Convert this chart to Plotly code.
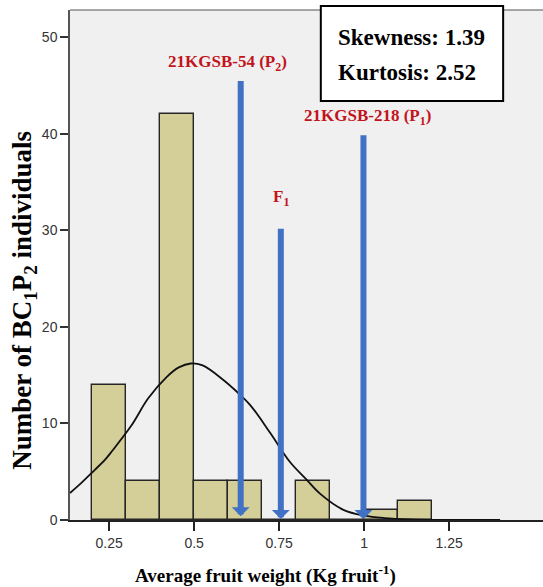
import plotly.graph_objects as go

# ---------------- data ----------------
bin_starts = [0.2, 0.3, 0.4, 0.5, 0.6, 0.7, 0.8, 0.9, 1.0, 1.1]
bin_counts = [14, 4, 42, 4, 4, 0, 4, 0, 1, 2]
bin_width = 0.1

# fitted normal curve
curve_x = [0.135, 0.17, 0.208, 0.237, 0.26, 0.316, 0.365, 0.419, 0.455, 0.49, 0.525,
           0.586, 0.625, 0.665, 0.724, 0.782, 0.83, 0.871, 0.939, 1.0, 1.06, 1.135, 1.25, 1.4]
curve_y = [2.8, 3.9, 5.2, 6.2, 7.2, 9.8, 12.6, 14.8, 15.8, 16.2, 16.0,
           14.5, 13.3, 11.9, 9.0, 6.0, 4.2, 2.7, 1.05, 0.45, 0.2, 0.07, 0.01, 0.0]

parent_names = ["21KGSB-54 (P<sub>2</sub>)", "F<sub>1</sub>", "21KGSB-218 (P<sub>1</sub>)"]
parent_x = [0.637, 0.755, 0.998]
parent_top = [45.6, 30.3, 40.0]
parent_tip = [0.4, 0.1, 0.1]
label_x = [0.597, 0.756, 1.009]
label_y = [47.3, 33.3, 41.7]

x_tick_vals = [0.25, 0.5, 0.75, 1.0, 1.25]
x_tick_text = ["0.25", "0.5", "0.75", "1", "1.25"]
y_tick_vals = [0, 10, 20, 30, 40, 50]

stats_text = ["Skewness: 1.39", "Kurtosis: 2.52"]

# ---------------- figure ----------------
SERIF = "Liberation Serif, Times New Roman, serif"
NARROW = "Liberation Sans Narrow, Arial Narrow, Liberation Sans, Arial, sans-serif"
RED = "#c2141c"
BLUE = "#4171c4"
PLOT_BG = "#f0f0f0"

fig = go.Figure()

fig.add_trace(go.Bar(
    x=[s + bin_width / 2 for s in bin_starts],
    y=bin_counts,
    width=bin_width,
    marker=dict(color="#d4cf98", line=dict(color="#262626", width=1.4)),
    hoverinfo="skip",
))

fig.add_trace(go.Scatter(
    x=curve_x, y=curve_y, mode="lines",
    line=dict(color="#111111", width=1.8, shape="spline", smoothing=1.0),
    hoverinfo="skip",
))

annotations = []
for name, px, top, tip, lx, ly in zip(parent_names, parent_x, parent_top, parent_tip, label_x, label_y):
    annotations.append(dict(
        x=px, y=tip, xref="x", yref="y",
        ax=px, ay=top, axref="x", ayref="y",
        text="", showarrow=True,
        arrowhead=1, arrowsize=0.5, arrowwidth=6, arrowcolor=BLUE,
        standoff=0,
    ))
    annotations.append(dict(
        x=lx, y=ly, xref="x", yref="y", text="<b>" + name + "</b>",
        showarrow=False, xanchor="center", yanchor="middle",
        font=dict(family=SERIF, size=17, color=RED),
    ))

# statistics box text
annotations.append(dict(
    x=0.9176, y=0.947, xref="x", yref="paper", text="<b>" + stats_text[0] + "</b>",
    showarrow=False, xanchor="left", yanchor="middle",
    font=dict(family=SERIF, size=23, color="#000000"),
))
annotations.append(dict(
    x=0.9176, y=0.878, xref="x", yref="paper", text="<b>" + stats_text[1] + "</b>",
    showarrow=False, xanchor="left", yanchor="middle",
    font=dict(family=SERIF, size=23, color="#000000"),
))

# axis titles
annotations.append(dict(
    x=0.0, xshift=-46, y=0.43, xref="paper", yref="paper",
    text="<b>Number of BC<sub>1</sub>P<sub>2</sub> individuals</b>",
    textangle=-90, showarrow=False, xanchor="center", yanchor="middle",
    font=dict(family=SERIF, size=27, color="#000000"),
))
annotations.append(dict(
    x=0.7088, y=-0.106, xref="x", yref="paper",
    text="<b>Average fruit weight (Kg fruit<sup>-1</sup>)</b>",
    showarrow=False, xanchor="center", yanchor="middle",
    font=dict(family=SERIF, size=19, color="#000000"),
))

shapes = [
    # top border
    dict(type="line", xref="paper", yref="paper", x0=0, x1=1, y0=1, y1=1,
         line=dict(color="#8a8a8a", width=1.5)),
    # stats box
    dict(type="rect", xref="x", yref="paper", x0=0.8726, x1=1.4088, y0=0.8216, y1=1.0078,
         fillcolor="white", line=dict(color="#000000", width=2), layer="above"),
]

fig.update_layout(
    width=560, height=587,
    margin=dict(l=70, r=0, t=10, b=67),
    paper_bgcolor="white",
    plot_bgcolor=PLOT_BG,
    showlegend=False,
    bargap=0,
    annotations=annotations,
    shapes=shapes,
    xaxis=dict(
        range=[0.135, 1.576], tickmode="array", tickvals=x_tick_vals, ticktext=x_tick_text,
        ticks="outside", ticklen=9, tickwidth=1.5, tickcolor="#222222",
        showline=True, linecolor="#222222", linewidth=2,
        showgrid=False, zeroline=False, automargin=False,
        tickfont=dict(family=NARROW, size=14, color="#333333"),
    ),
    yaxis=dict(
        range=[0, 52.8], tickmode="array", tickvals=y_tick_vals,
        ticks="outside", ticklen=8, tickwidth=1.5, tickcolor="#333333",
        showline=True, linecolor="#555555", linewidth=1.5,
        showgrid=False, zeroline=False, automargin=False,
        tickfont=dict(family=NARROW, size=14, color="#333333"),
    ),
)

fig.write_html(
    "out.html",
    config={"displayModeBar": False},
    post_script=(
        "document.body.style.margin='0';document.body.style.padding='0';"
        "document.body.style.overflow='hidden';"
        "document.documentElement.style.overflow='hidden';"
    ),
)
